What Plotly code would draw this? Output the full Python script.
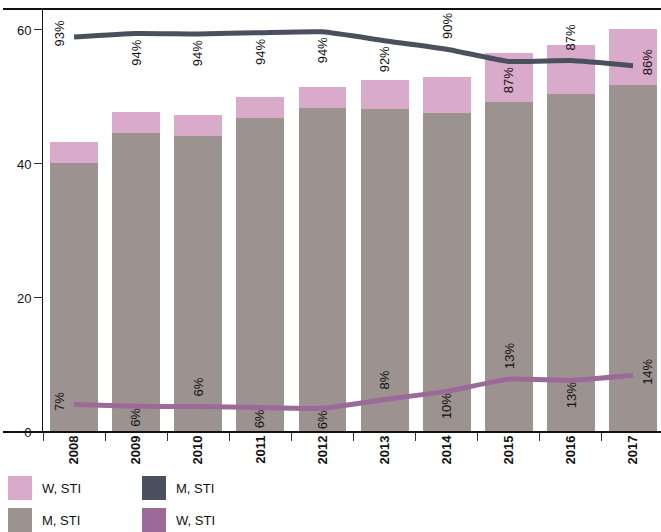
import plotly.graph_objects as go

# ---------------- data ----------------
years = ["2008", "2009", "2010", "2011", "2012", "2013", "2014", "2015", "2016", "2017"]
m_bar = [40.1, 44.6, 44.2, 46.9, 48.4, 48.2, 47.6, 49.3, 50.4, 51.8]
w_bar = [3.2, 3.2, 3.1, 3.1, 3.1, 4.3, 5.4, 7.3, 7.4, 8.4]
m_share = [93.4, 94.2, 94.1, 94.4, 94.6, 92.5, 90.5, 87.6, 87.8, 86.6]
w_share = [6.5, 6.1, 6.0, 5.8, 5.6, 7.7, 9.6, 12.5, 12.2, 13.4]
m_labels = ["93%", "94%", "94%", "94%", "94%", "92%", "90%", "87%", "87%", "86%"]
w_labels = ["7%", "6%", "6%", "6%", "6%", "8%", "10%", "13%", "13%", "14%"]
y_ticks = [0, 20, 40, 60]
legend_names = ["W, STI", "M, STI", "M, STI", "W, STI"]

# ---------------- styles ----------------
PINK = "#d9aaca"
GRAY = "#9c9390"
DARK = "#4a505d"
PURPLE = "#9b6a98"
FONT = "Liberation Sans, Arial, sans-serif"
m_place = ["left", "below", "below", "below", "below", "below", "above", "below", "above", "right"]
w_place = ["left", "below", "above", "below", "below", "above", "below", "above", "below", "right"]

W, H = 661, 532
ML, MR, MT, MB = 43, 0, 9, 100
PW, PH = W - ML - MR, H - MT - MB


def px_x(px):
    return (px - ML) / PW


def px_y(py):
    return (H - MB - py) / PH


fig = go.Figure()
fig.add_trace(go.Bar(x=years, y=m_bar, name="M, STI", marker=dict(color=GRAY, line=dict(width=0)),
                     showlegend=False, yaxis="y"))
fig.add_trace(go.Bar(x=years, y=w_bar, name="W, STI", marker=dict(color=PINK, line=dict(width=0)),
                     showlegend=False, yaxis="y"))
fig.add_trace(go.Scatter(x=years, y=m_share, name="M, STI", mode="lines", yaxis="y2",
                         line=dict(color=DARK, width=5, shape="spline", smoothing=0.4),
                         showlegend=False))
fig.add_trace(go.Scatter(x=years, y=w_share, name="W, STI", mode="lines", yaxis="y2",
                         line=dict(color=PURPLE, width=5, shape="spline", smoothing=0.4),
                         showlegend=False))

annotations = []


def add_labels(vals, labels, places, below_shift):
    # category index positions (numeric-looking category names would be misread as indices)
    for i, (v, t, p) in enumerate(zip(vals, labels, places)):
        a = dict(x=i, y=v, xref="x", yref="y2", text=t, showarrow=False, textangle=-90,
                 font=dict(family=FONT, size=13, color="#111"))
        if p == "below":
            a.update(xanchor="center", yanchor="top", yshift=below_shift)
        elif p == "above":
            a.update(xanchor="center", yanchor="bottom", yshift=8)
        elif p == "left":
            a.update(xanchor="right", yanchor="middle", xshift=-5, yshift=3)
        else:
            a.update(xanchor="left", yanchor="middle", xshift=5, yshift=3)
        annotations.append(a)


add_labels(m_share, m_labels, m_place, -4)
add_labels(w_share, w_labels, w_place, 0)

# custom legend: two columns (bars | lines)
legend_colors = [PINK, DARK, GRAY, PURPLE]
legend_cells = [(8, 476), (142, 476), (8, 508), (142, 508)]
shapes = []
for name, col, (lx, ly) in zip(legend_names, legend_colors, legend_cells):
    shapes.append(dict(type="rect", xref="paper", yref="paper",
                       x0=px_x(lx), x1=px_x(lx + 24), y0=px_y(ly + 24), y1=px_y(ly),
                       fillcolor=col, line=dict(width=0)))
    annotations.append(dict(x=px_x(lx + 32), y=px_y(ly + 12), xref="paper", yref="paper",
                            text=name, showarrow=False, xanchor="left", yanchor="middle",
                            font=dict(family=FONT, size=13, color="#111")))

# top and bottom frame lines that extend left of the y axis
for yy in (0, 1):
    shapes.append(dict(type="line", xref="paper", yref="paper", x0=px_x(3), x1=1, y0=yy, y1=yy,
                       line=dict(color="#111", width=2)))

fig.update_layout(
    width=W, height=H,
    margin=dict(l=ML, r=MR, t=MT, b=MB, pad=0),
    paper_bgcolor="white", plot_bgcolor="white",
    barmode="stack", bargap=0.23,
    font=dict(family=FONT, size=13, color="#111"),
    showlegend=False,
    xaxis=dict(type="category", range=[-0.5, 9.45], showline=False, showgrid=False, zeroline=False,
               ticks="outside", ticklen=8, tickwidth=1, tickcolor="#333", tickson="boundaries",
               tickangle=-90, tickfont=dict(family=FONT, size=13, color="#111", weight="bold")),
    yaxis=dict(range=[0, 63.13], tickvals=y_ticks, showline=True, linecolor="#111", linewidth=1,
               showgrid=False, zeroline=False, ticks="outside", ticklen=8, tickwidth=1,
               tickcolor="#333", tickfont=dict(family=FONT, size=13, color="#111")),
    yaxis2=dict(range=[0, 100], overlaying="y", anchor="x", side="right", showgrid=False,
                zeroline=False, showline=False, showticklabels=False, ticks=""),
    shapes=shapes,
    annotations=annotations,
)

fig.write_html("out.html", config={"displayModeBar": False},
               post_script="document.body.style.margin='0';document.body.style.overflow='hidden';")
